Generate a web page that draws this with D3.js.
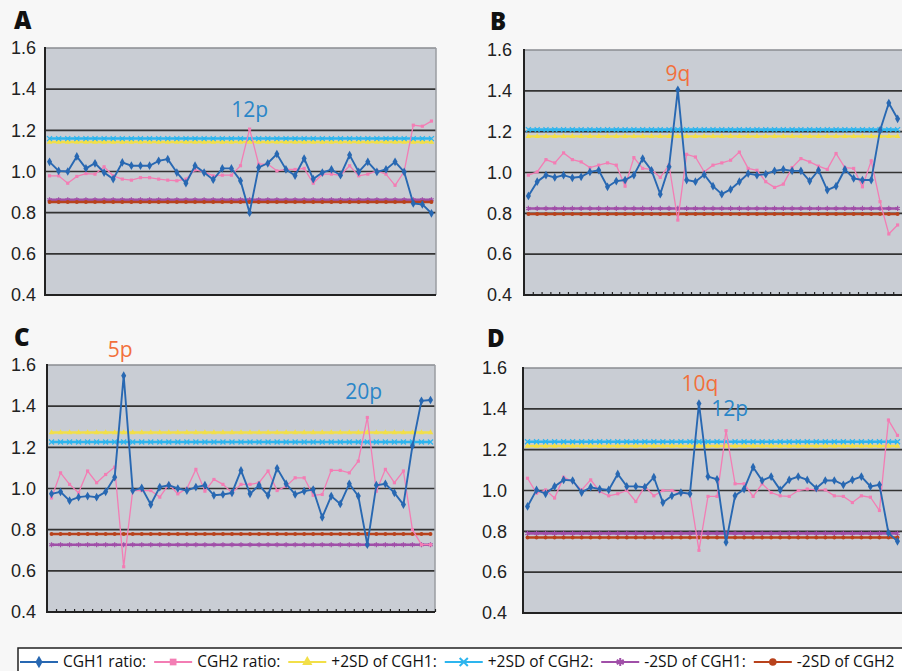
<!DOCTYPE html>
<html>
<head>
<meta charset="UTF-8">
<title>CGH ratio profiles</title>
<style>
  body { margin: 0; background: #f7f7f7; }
  svg { display: block; font-family: "Open Sans", sans-serif; }
  .tick text { font-size: 18px; fill: #222; }
</style>
</head>
<body>
<script src="https://d3js.org/d3.v7.min.js"></script>
<script>

  // values (one value per probe position)
  var panelNames = ["A", "B", "C", "D"];
  var yTicks = [0.4, 0.6, 0.8, 1.0, 1.2, 1.4, 1.6];

  var cgh1A = [1.047, 1.003, 1.0, 1.073, 1.015, 1.04, 0.995, 0.963, 1.044, 1.028, 1.028, 1.028, 1.052, 1.06, 0.995, 0.943, 1.028, 0.995, 0.96, 1.015, 1.015, 0.955, 0.80, 1.02, 1.04, 1.085, 1.01, 0.98, 1.063, 0.963, 0.995, 1.01, 0.982, 1.08, 0.998, 1.047, 0.998, 1.01, 1.047, 0.998, 0.845, 0.84, 0.797];
  var cgh2A = [0.979, 0.979, 0.943, 0.976, 0.99, 0.987, 1.023, 0.979, 0.963, 0.958, 0.97, 0.97, 0.963, 0.958, 0.955, 0.963, 1.008, 0.998, 0.979, 0.982, 0.982, 1.028, 1.206, 1.036, 1.036, 1.003, 1.01, 1.01, 1.015, 0.943, 0.987, 0.987, 0.982, 1.028, 0.979, 0.987, 1.003, 0.987, 0.933, 1.0, 1.225, 1.22, 1.245];

  var cgh1B = [0.885, 0.955, 0.987, 0.976, 0.987, 0.974, 0.979, 1.003, 1.011, 0.93, 0.958, 0.963, 0.987, 1.068, 1.011, 0.894, 1.028, 1.405, 0.963, 0.955, 0.99, 0.933, 0.894, 0.917, 0.955, 0.995, 0.987, 0.992, 1.008, 1.015, 1.008, 1.008, 0.958, 1.011, 0.914, 0.933, 1.015, 0.971, 0.963, 0.963, 1.206, 1.34, 1.263];
  var cgh2B = [0.987, 1.003, 1.063, 1.047, 1.096, 1.063, 1.052, 1.024, 1.036, 1.047, 1.036, 0.933, 1.073, 1.02, 1.015, 0.976, 1.036, 0.767, 1.089, 1.076, 1.003, 1.036, 1.047, 1.06, 1.1, 1.02, 1.011, 0.955, 0.927, 0.943, 1.024, 1.068, 1.052, 1.031, 1.015, 1.093, 1.024, 1.02, 0.93, 1.057, 0.857, 0.699, 0.743];

  var cgh1C = [0.974, 0.984, 0.941, 0.958, 0.963, 0.958, 0.984, 1.055, 1.548, 0.99, 1.003, 0.922, 1.007, 1.016, 1.0, 0.99, 1.007, 1.016, 0.967, 0.971, 0.979, 1.088, 0.974, 1.016, 0.967, 1.098, 1.023, 0.971, 0.987, 0.995, 0.86, 0.963, 0.925, 1.023, 0.963, 0.727, 1.016, 1.023, 0.979, 0.922, 1.207, 1.426, 1.43];
  var cgh2C = [0.954, 1.076, 1.02, 0.979, 1.085, 1.028, 1.068, 1.104, 0.62, 0.99, 0.99, 0.99, 0.958, 1.02, 0.974, 1.0, 1.093, 0.987, 1.044, 1.02, 0.979, 1.02, 1.02, 1.028, 1.085, 0.99, 1.011, 1.052, 1.052, 0.967, 0.971, 1.088, 1.088, 1.076, 1.133, 1.345, 0.987, 1.093, 1.028, 1.085, 0.8, 0.727, 0.727];

  var cgh1D = [0.922, 1.003, 0.984, 1.02, 1.052, 1.049, 0.99, 1.016, 1.007, 1.003, 1.081, 1.02, 1.02, 1.016, 1.065, 0.941, 0.974, 0.99, 0.984, 1.426, 1.068, 1.055, 0.746, 0.974, 1.007, 1.114, 1.049, 1.068, 1.003, 1.052, 1.068, 1.052, 1.011, 1.049, 1.049, 1.028, 1.052, 1.068, 1.02, 1.028, 0.792, 0.751];
  var cgh2D = [1.06, 0.987, 1.003, 0.963, 1.065, 1.044, 1.003, 1.052, 0.995, 0.974, 0.984, 1.0, 0.946, 1.02, 0.974, 1.0, 1.0, 0.987, 0.984, 0.707, 0.971, 0.971, 1.293, 1.033, 1.033, 0.971, 1.033, 0.99, 0.974, 0.971, 1.0, 1.007, 1.003, 1.003, 0.974, 0.971, 0.941, 0.974, 0.967, 0.902, 1.345, 1.27];

  var cgh1 = [cgh1A, cgh1B, cgh1C, cgh1D];
  var cgh2 = [cgh2A, cgh2B, cgh2C, cgh2D];

  // threshold levels, one per panel
  var plus2sdCGH1 = [1.143, 1.177, 1.272, 1.218];
  var plus2sdCGH2 = [1.160, 1.210, 1.226, 1.239];
  var minus2sdCGH1 = [0.863, 0.824, 0.727, 0.790];
  var minus2sdCGH2 = [0.852, 0.797, 0.779, 0.770];

  var legendLabels = ["CGH1 ratio:", "CGH2 ratio:", "+2SD of CGH1:", "+2SD of CGH2:", "-2SD of CGH1:", "-2SD of CGH2"];

  // region labels: panel, text, probe index, ratio level, kind
  var annotations = [
    { panel: 0, text: "12p", at: 22, value: 1.263, kind: "blue" },
    { panel: 1, text: "9q", at: 17, value: 1.45, kind: "orange" },
    { panel: 2, text: "5p", at: 7.6, value: 1.64, kind: "orange" },
    { panel: 2, text: "20p", at: 34.6, value: 1.434, kind: "blue" },
    { panel: 3, text: "10q", at: 19.1, value: 1.486, kind: "orange" },
    { panel: 3, text: "12p", at: 22.4, value: 1.364, kind: "blue" }
  ];

  // layout of each panel
  var layout = [
    { x0: 45, x1: 436, yTop: 48, yBot: 295, pad: 9, lx: 14, ly: 29, ticks: false, right: true },
    { x0: 524, x1: 902, yTop: 50, yBot: 295, pad: 12, lx: 490, ly: 30, ticks: true, right: false },
    { x0: 47, x1: 435, yTop: 365, yBot: 612, pad: 11, lx: 14, ly: 346, ticks: true, right: true },
    { x0: 523, x1: 902, yTop: 368, yBot: 613, pad: 16, lx: 487, ly: 347, ticks: false, right: false }
  ];

  var styles = [
    { color: "#2868b2", symbol: d3.symbolDiamond, size: 22, width: 1.9 },
    { color: "#f37db4", symbol: d3.symbolSquare, size: 10, width: 1.3 },
    { color: "#f2df48", symbol: d3.symbolTriangle, size: 14, width: 2.4 },
    { color: "#2db5ee", symbol: d3.symbolTimes, size: 18, width: 2.6, stroke: true },
    { color: "#a04fa8", symbol: d3.symbolAsterisk, size: 18, width: 2.6, stroke: true },
    { color: "#b8421c", symbol: d3.symbolCircle, size: 12, width: 2.4 }
  ];
  var annColor = { blue: "#2a86c8", orange: "#f2703c" };

  var svg = d3.select("body").append("svg")
    .attr("width", 902)
    .attr("height", 671);

  function drawSeries(g, values, x, y, st) {
    var line = d3.line()
      .x(function(d, i) { return x(i); })
      .y(function(d) { return y(d); });
    g.append("path")
      .datum(values)
      .attr("fill", "none")
      .attr("stroke", st.color)
      .attr("stroke-width", st.width)
      .attr("d", line);
    g.selectAll(null)
      .data(values)
      .enter()
      .append("path")
      .attr("transform", function(d, i) { return "translate(" + x(i) + "," + y(d) + ")"; })
      .attr("d", d3.symbol().type(st.symbol).size(st.size))
      .attr("fill", st.stroke ? "none" : st.color)
      .attr("stroke", st.stroke ? st.color : "none")
      .attr("stroke-width", 1.2);
  }

  panelNames.forEach(function(name, p) {
    var L = layout[p];
    var n = cgh1[p].length;
    var x = d3.scaleLinear().domain([-0.5, n - 0.5]).range([L.x0, L.x1]);
    var y = d3.scaleLinear().domain([0.4, 1.6]).range([L.yBot, L.yTop]);
    var g = svg.append("g");

    g.append("rect")
      .attr("x", L.x0).attr("y", L.yTop)
      .attr("width", L.x1 - L.x0).attr("height", L.yBot - L.yTop)
      .attr("fill", "#c9cdd4");

    // horizontal grid
    g.selectAll(null)
      .data(yTicks.filter(function(v) { return v > 0.45 && v < 1.55; }))
      .enter()
      .append("line")
      .attr("x1", L.x0).attr("x2", L.x1)
      .attr("y1", function(d) { return y(d); })
      .attr("y2", function(d) { return y(d); })
      .attr("stroke", "#333")
      .attr("stroke-width", 1.7);

    // threshold lines
    var levels = [plus2sdCGH1[p], plus2sdCGH2[p], minus2sdCGH1[p], minus2sdCGH2[p]];
    levels.forEach(function(lv, k) {
      drawSeries(g, d3.range(n).map(function() { return lv; }), x, y, styles[k + 2]);
    });

    drawSeries(g, cgh2[p], x, y, styles[1]);
    drawSeries(g, cgh1[p], x, y, styles[0]);

    // frame
    g.append("line")
      .attr("x1", L.x0).attr("x2", L.x1).attr("y1", L.yTop).attr("y2", L.yTop)
      .attr("stroke", "#8a8d92").attr("stroke-width", 1.5);
    if (L.right) {
      g.append("line")
        .attr("x1", L.x1).attr("x2", L.x1).attr("y1", L.yTop).attr("y2", L.yBot)
        .attr("stroke", "#9a9da2").attr("stroke-width", 1.5);
    }
    g.append("line")
      .attr("x1", L.x0).attr("x2", L.x1).attr("y1", L.yBot).attr("y2", L.yBot)
      .attr("stroke", "#222").attr("stroke-width", 2);
    g.append("line")
      .attr("x1", L.x0).attr("x2", L.x0).attr("y1", L.yTop - 1).attr("y2", L.yBot + 1)
      .attr("stroke", "#222").attr("stroke-width", 2);

    if (L.ticks) {
      var xAxis = g.append("g")
        .attr("transform", "translate(0," + L.yBot + ")")
        .call(d3.axisBottom(x)
          .tickValues(d3.range(n).map(function(i) { return i + 0.5; }))
          .tickSize(-3)
          .tickFormat(""));
      xAxis.select(".domain").remove();
      xAxis.selectAll(".tick line").attr("stroke", "#222").attr("stroke-width", 1.2);
    }

    var yAxis = g.append("g")
      .attr("transform", "translate(" + (L.x0 - L.pad) + ",0)")
      .call(d3.axisLeft(y).tickValues(yTicks).tickSize(0).tickPadding(0)
        .tickFormat(d3.format(".1f")));
    yAxis.select(".domain").remove();

    g.append("text")
      .attr("x", L.lx).attr("y", L.ly)
      .attr("font-size", 24)
      .attr("font-weight", 800)
      .attr("fill", "#111")
      .text(name);

    g.selectAll(null)
      .data(annotations.filter(function(a) { return a.panel === p; }))
      .enter()
      .append("text")
      .attr("x", function(a) { return x(a.at); })
      .attr("y", function(a) { return y(a.value); })
      .attr("text-anchor", "middle")
      .attr("font-size", 21)
      .attr("fill", function(a) { return annColor[a.kind]; })
      .text(function(a) { return a.text; });
  });

  // legend
  var legend = svg.append("g");
  legend.append("rect")
    .attr("x", 18).attr("y", 648)
    .attr("width", 900).attr("height", 40)
    .attr("fill", "#fff")
    .attr("stroke", "#222")
    .attr("stroke-width", 1.5);

  var cursor = 20;
  var ly = 662;
  legendLabels.forEach(function(label, k) {
    var st = styles[k];
    var item = legend.append("g");
    item.append("line")
      .attr("x1", cursor).attr("x2", cursor + 38)
      .attr("y1", ly).attr("y2", ly)
      .attr("stroke", st.color).attr("stroke-width", 2.2);
    item.append("path")
      .attr("transform", "translate(" + (cursor + 19) + "," + ly + ")")
      .attr("d", d3.symbol().type(st.symbol).size(45))
      .attr("fill", st.stroke ? "none" : st.color)
      .attr("stroke", st.stroke ? st.color : "none")
      .attr("stroke-width", 2);
    var t = item.append("text")
      .attr("x", cursor + 43)
      .attr("y", ly)
      .attr("dy", "0.33em")
      .attr("font-size", 15.5)
      .attr("fill", "#111")
      .text(label);
    cursor += 43 + t.node().getComputedTextLength() + 8;
  });

</script>
</body>
</html>
